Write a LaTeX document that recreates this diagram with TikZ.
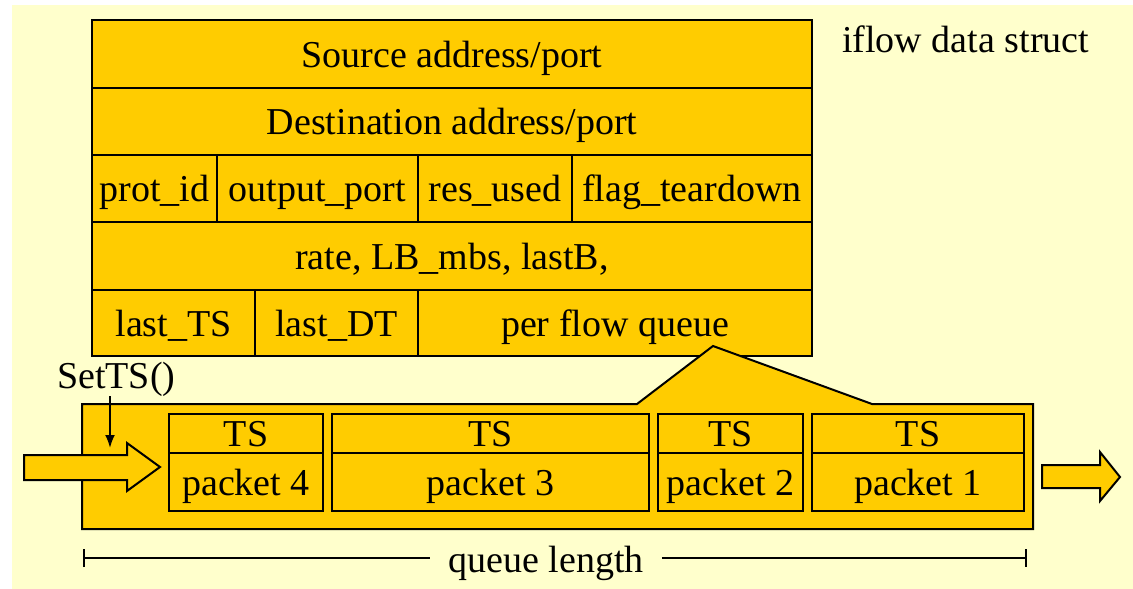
\documentclass[tikz,border=0pt]{standalone}
\usepackage{fontspec}
\setmainfont{Liberation Serif}
\usetikzlibrary{arrows.meta}
\definecolor{gold}{HTML}{FFCC00}
\definecolor{paper}{HTML}{FFFFCC}
\begin{document}
\begin{tikzpicture}[x=1pt,y=-1pt,
  cell/.style={draw, fill=gold, line width=2pt, inner sep=0pt, outer sep=0pt,
    anchor=north west, font=\fontsize{38}{40}\selectfont,
    text height=30pt, text depth=4pt},
  lbl/.style={inner sep=0pt, font=\fontsize{38}{40}\selectfont},
  ol/.style={draw, line width=2pt, fill=gold, line join=miter},
  conn/.style={line width=2pt}]

\useasboundingbox (0,0) rectangle (1133,589);
\fill[white] (0,0) rectangle (1133,589);
\fill[paper] (12,5) rectangle (1133,589);

% iflow data struct
\node[cell, minimum width=720pt, minimum height=68pt] (src) at (92,20) {Source address/port};
\node[cell, minimum width=720pt, minimum height=67pt] (dst) at (92,88) {Destination address/port};
\node[cell, minimum width=125pt, minimum height=67pt] (prot) at (92,155) {prot\_id};
\node[cell, minimum width=201pt, minimum height=67pt] (outp) at (217,155) {output\_port};
\node[cell, minimum width=154pt, minimum height=67pt] (res) at (418,155) {res\_used};
\node[cell, minimum width=240pt, minimum height=67pt] (flag) at (572,155) {flag\_teardown};
\node[cell, minimum width=720pt, minimum height=68pt] (rate) at (92,222) {rate, LB\_mbs, lastB,};
\node[cell, minimum width=163pt, minimum height=66pt] (lts) at (92,290) {last\_TS};
\node[cell, minimum width=163pt, minimum height=66pt] (ldt) at (255,290) {last\_DT};
\node[cell, minimum width=394pt, minimum height=66pt] (pfq) at (418,290) {per flow queue};

\node[lbl, anchor=base west] (title) at (842,52) {iflow data struct};

% queue
\draw[ol] (82,404) -- (637,404) -- (713,346) -- (872,404) -- (1033,404)
  -- (1033,529) -- (82,529) -- cycle;

\node[cell, minimum width=154pt, minimum height=39pt] (ts4) at (169,414) {TS};
\node[cell, minimum width=154pt, minimum height=58pt] (p4) at (169,453) {packet 4};
\node[cell, minimum width=317pt, minimum height=39pt] (ts3) at (332,414) {TS};
\node[cell, minimum width=317pt, minimum height=58pt] (p3) at (332,453) {packet 3};
\node[cell, minimum width=145pt, minimum height=39pt] (ts2) at (658,414) {TS};
\node[cell, minimum width=145pt, minimum height=58pt] (p2) at (658,453) {packet 2};
\node[cell, minimum width=212pt, minimum height=39pt] (ts1) at (812,414) {TS};
\node[cell, minimum width=212pt, minimum height=58pt] (p1) at (812,453) {packet 1};

% input / output arrows
\draw[ol] (24,455) -- (127,455) -- (127,443) -- (160,467) -- (127,491)
  -- (127,480) -- (24,480) -- cycle;
\draw[ol] (1042,465) -- (1100,465) -- (1100,452) -- (1120,477) -- (1100,501)
  -- (1100,488) -- (1042,488) -- cycle;

% SetTS
\node[lbl, anchor=base west] (setts) at (57,388) {SetTS()};
\coordinate (setin) at (110,448);
\draw[conn, -{Latex[length=13pt,width=10pt]}] (setin |- setts.south) -- (setin);

% queue length
\node[lbl, anchor=base, inner xsep=18pt] (ql) at (546,572) {queue length};
\coordinate (qlL) at (83,558);
\coordinate (qlR) at (1027,558);
\draw[conn, {Bar[width=18pt]}-] (qlL) -- (ql.west |- qlL);
\draw[conn, -{Bar[width=18pt]}] (ql.east |- qlR) -- (qlR);
\end{tikzpicture}
\end{document}
